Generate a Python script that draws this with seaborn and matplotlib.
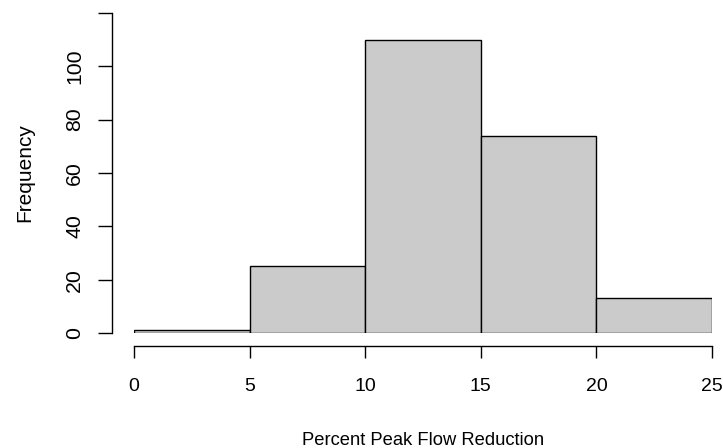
import matplotlib
matplotlib.use("Agg")
import matplotlib.pyplot as plt
import seaborn as sns
import numpy as np

# Histogram values
bin_edges = [0, 5, 10, 15, 20, 25]
counts = [1, 25, 110, 74, 13]
x_ticks = [0, 5, 10, 15, 20, 25]
y_ticks = [0, 20, 40, 60, 80, 100, 120]
y_tick_labels = ["0", "20", "40", "60", "80", "100", ""]

sns.set_style("white")
plt.rcParams["font.family"] = ["Liberation Sans", "DejaVu Sans"]
plt.rcParams["font.size"] = 14
# seaborn greys out text; the reference uses plain black
plt.rcParams["text.color"] = "black"
plt.rcParams["axes.labelcolor"] = "black"
plt.rcParams["xtick.color"] = "black"
plt.rcParams["ytick.color"] = "black"

fig = plt.figure(figsize=(7.23, 4.48), dpi=100)
ax = fig.add_axes([134 / 723, 115 / 448, 578 / 723, 320 / 448])

# bin midpoints weighted by counts -> one bar per bin
mids = [(bin_edges[i] + bin_edges[i + 1]) / 2 for i in range(len(counts))]
sns.histplot(
    x=mids,
    weights=counts,
    bins=bin_edges,
    color="#cbcbcb",
    edgecolor="black",
    linewidth=1.0,
    alpha=1.0,
    ax=ax,
)

ax.set_xlim(0, 25)
ax.set_ylim(0, 120)

# R-style detached axes (offsets in points)
for side in ["top", "right"]:
    ax.spines[side].set_visible(False)
ax.spines["left"].set_position(("outward", 15.8))
ax.spines["bottom"].set_position(("outward", 9.4))
ax.spines["left"].set_bounds(0, 120)
ax.spines["bottom"].set_bounds(0, 25)
for side in ["left", "bottom"]:
    ax.spines[side].set_color("black")
    ax.spines[side].set_linewidth(1.0)

ax.set_xticks(x_ticks)
ax.set_yticks(y_ticks)
ax.set_yticklabels(y_tick_labels, rotation=90, va="center")
ax.tick_params(axis="both", which="major", left=True, bottom=True,
               direction="out", width=1.0, color="black", labelcolor="black")
ax.tick_params(axis="y", length=10, pad=10.0, labelsize=15.3)
ax.tick_params(axis="x", length=8.6, pad=14.5, labelsize=14)

ax.set_xlabel("Percent Peak Flow Reduction", fontsize=13.2, color="black")
ax.set_ylabel("Frequency", fontsize=15, color="black")
ax.xaxis.set_label_coords(0.5, -0.308)
ax.yaxis.set_label_coords(-0.173, 0.5)
ax.grid(False)

plt.savefig("out.png", dpi=100)
